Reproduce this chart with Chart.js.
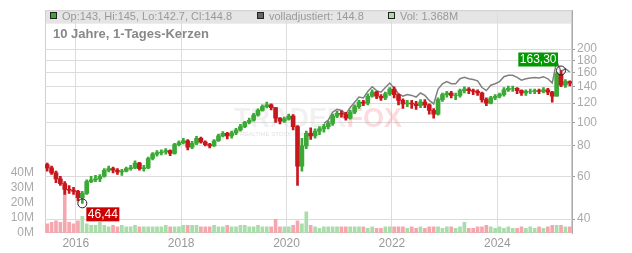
<!DOCTYPE html>
<html>
<head>
<meta charset="utf-8">
<script src="https://cdn.jsdelivr.net/npm/chart.js@4.4.1/dist/chart.umd.min.js"></script>
<style>
  html, body { margin: 0; padding: 0; background: #fff; }
  canvas { display: block; }
</style>
</head>
<body>
<canvas id="chart" width="632" height="253"></canvas>
<script>
// Monatskerzen, Juni 2015 bis Mai 2025
const startYear = 2015 + 5 / 12;

const opens = [
  67, 65, 62, 58.5, 56, 53, 52.6, 52, 49, 51, 57, 58,
  58.5, 60, 63.5, 64.5, 63.5, 62.5, 63, 64.5, 65, 68, 64.5, 65,
  71, 74, 75, 75.5, 76.5, 74.5, 81, 82.5, 84, 79, 82, 86,
  83, 81, 80, 84, 88, 90, 88, 90.5, 93, 96, 100, 102,
  107, 112, 116, 118, 115, 104, 101, 103, 106, 96, 66, 80,
  90, 88, 92, 94, 96, 99, 106, 109, 108, 104, 110, 116,
  121, 120, 128, 133, 128, 126, 131, 137, 130, 123, 119, 120,
  119, 117, 121, 118, 112, 108, 124, 130, 132, 129, 129, 135,
  137, 135, 134, 132, 124, 120, 126, 128, 130, 136, 138, 138,
  135, 132, 134, 134, 135, 134, 136, 133, 128, 158, 142, 147
];
const highs = [
  68, 66, 63, 60, 57, 55, 54, 52.5, 52, 58, 60, 60.5,
  61, 64.5, 66, 65.5, 64.5, 64, 65.5, 66.5, 69.5, 68.5, 66.5, 72,
  75, 76.5, 77, 78, 77, 82, 84, 86, 85, 83.5, 87.5, 87,
  84, 82, 85, 89.5, 91.5, 91, 92, 94.5, 98, 101, 104, 109,
  113.5, 118, 121, 119, 115, 104.5, 105, 108, 107.5, 97, 86, 92,
  95, 94, 96, 98, 101, 108, 111, 111.5, 110, 112, 118, 123,
  123, 131, 136, 134, 130, 133, 139, 140, 131, 125, 123, 123,
  122, 124, 124, 119, 114, 126, 132, 134, 134, 132, 137, 140,
  139, 137, 136, 133, 126, 128, 130, 132, 139, 141, 141, 139,
  136, 136, 137, 137, 137, 139, 138, 134, 160, 163.3, 150, 148
];
const lows = [
  63, 61, 56.5, 55, 50.5, 51, 50.5, 47.5, 46.44, 50.5, 56.5, 57,
  57, 59.5, 62.5, 62, 61, 60.5, 62.5, 63.5, 64.5, 63.5, 63, 64.5,
  70, 72.5, 73.5, 74, 73, 74, 80, 81.5, 77, 78, 81, 82,
  80, 78.5, 79.5, 83.5, 87, 85.5, 86, 89, 92, 95, 98.5, 101,
  106, 111, 114.5, 112.5, 100, 98.5, 100, 102, 93, 55, 63, 78,
  85, 86, 89, 91, 94, 97, 104.5, 105, 102, 103, 108.5, 114,
  117, 118, 127, 125, 123, 124, 129, 126, 118, 114, 116, 114,
  113, 115, 115, 108, 104, 107, 122, 127, 126, 124, 127, 132,
  131, 130, 129, 121, 117, 119, 124, 126, 128, 134, 134, 131,
  129, 129, 131, 131, 131, 132, 130, 121, 128, 140, 139, 141
];
const closes = [
  65, 62, 58.5, 56, 53, 52.6, 52, 49, 51, 57, 58, 58.5,
  60, 63.5, 64.5, 63.5, 62.5, 63, 64.5, 65, 68, 64.5, 65, 71,
  74, 75, 75.5, 76.5, 74.5, 81, 82.5, 84, 79, 82, 86, 83,
  81, 80, 84, 88, 90, 88, 90.5, 93, 96, 100, 102, 107,
  112, 116, 118, 115, 104, 101, 103, 106, 96, 66, 80, 90,
  88, 92, 94, 96, 99, 106, 109, 108, 104, 110, 116, 121,
  120, 128, 133, 128, 126, 131, 137, 130, 123, 119, 120, 119,
  117, 121, 118, 112, 108, 124, 130, 132, 129, 129, 135, 137,
  135, 134, 132, 124, 120, 126, 128, 130, 136, 138, 138, 135,
  132, 134, 134, 135, 134, 136, 133, 128, 158, 142, 147, 144.8
];
// volladjustierte Kurve (nur ab Ende 2020 sichtbar)
const adjusted = [
  null, null, null, null, null, null, null, null, null, null, null, null,
  null, null, null, null, null, null, null, null, null, null, null, null,
  null, null, null, null, null, null, null, null, null, null, null, null,
  null, null, null, null, null, null, null, null, null, null, null, null,
  null, null, null, null, null, null, null, null, null, null, null, null,
  null, null, null, 99, 102, 110, 113, 112, 108, 115, 121, 127,
  126, 134, 140, 135, 133, 139, 145, 138, 131, 128, 130, 129,
  127, 132, 129, 123, 119, 137, 144, 147, 144, 144, 151, 153,
  151, 150, 148, 139, 135, 142, 144, 147, 154, 156, 156, 153,
  149, 151, 152, 153, 152, 154, 151, 145, 178, 162, 166, 161
];
// Volumen in Mio.
const volumes = [
  6, 7, 8, 7, 31, 7, 6, 8, 11, 6, 5, 5,
  7, 5, 4, 5, 4, 5, 4, 4, 5, 4, 4, 4,
  4, 4, 4, 5, 4, 4, 4, 5, 5, 5, 5, 4,
  4, 4, 5, 4, 4, 5, 4, 4, 5, 5, 4, 4,
  5, 4, 4, 4, 9, 4, 4, 4, 5, 8, 6, 14,
  5, 4, 3, 4, 4, 4, 4, 4, 4, 4, 4, 4,
  4, 3, 4, 3, 3, 4, 4, 4, 4, 4, 3, 4,
  3, 4, 3, 4, 4, 4, 3, 4, 4, 3, 4, 7,
  3, 3, 4, 4, 5, 4, 3, 4, 3, 4, 3, 3,
  4, 3, 4, 3, 4, 3, 4, 5, 5, 5, 4, 4
];

const yearTicks = [2016, 2018, 2020, 2022, 2024];
const priceTicks = [40, 60, 80, 100, 120, 140, 160, 180, 200];
const volTicks = [0, 10, 20, 30, 40];

const months = closes.map((c, i) => startYear + (i + 0.5) / 12);
const up = closes.map((c, i) => c >= opens[i]);

const font = "'Liberation Sans', Arial, sans-serif";
const green = '#3aa935';
const red = '#c8161d';

const lowIdx = 8;    // 46,44
const highIdx = 117; // 163,30

const decor = {
  id: 'decor',
  beforeDraw(chart) {
    const { ctx, chartArea: a } = chart;
    ctx.save();
    ctx.fillStyle = '#e5e5e5';
    ctx.fillRect(a.left, a.top, a.right - a.left, 13.5);
    ctx.strokeStyle = '#cfcfcf';
    ctx.lineWidth = 1;
    ctx.strokeRect(a.left + 0.5, a.top + 0.5, a.right - a.left - 1, a.bottom - a.top - 1);
    ctx.restore();
  },
  beforeDatasetsDraw(chart) {
    const { ctx } = chart;
    ctx.save();
    ctx.font = "bold 27px " + font;
    ctx.textBaseline = 'alphabetic';
    ctx.fillStyle = 'rgba(215,215,215,0.35)';
    ctx.fillText('TRADER', 234, 127);
    const w = ctx.measureText('TRADER').width;
    ctx.fillStyle = 'rgba(240,110,120,0.25)';
    ctx.fillText('FOX', 234 + w, 127);
    ctx.font = "6px " + font;
    ctx.fillStyle = 'rgba(200,200,200,0.5)';
    ctx.fillText('REALTIME STOCK CHARTS', 240, 136);
    ctx.restore();
  },
  afterDraw(chart) {
    const { ctx, scales } = chart;
    ctx.save();
    // Legende
    ctx.font = "11px " + font;
    ctx.textBaseline = 'alphabetic';
    const items = [
      { x: 50, fill: '#3aa935', text: 'Op:143, Hi:145, Lo:142.7, Cl:144.8' },
      { x: 257, fill: '#666666', text: 'volladjustiert: 144.8' },
      { x: 388, fill: '#a8dca8', text: 'Vol: 1.368M' }
    ];
    items.forEach(it => {
      ctx.fillStyle = it.fill;
      ctx.fillRect(it.x, 12, 7, 7);
      ctx.strokeStyle = '#222';
      ctx.lineWidth = 1;
      ctx.strokeRect(it.x + 0.5, 12.5, 6, 6);
      ctx.fillStyle = '#999';
      ctx.fillText(it.text, it.x + 12, 20);
    });
    // Titel
    ctx.font = "bold 13px " + font;
    ctx.fillStyle = '#888';
    ctx.fillText('10 Jahre, 1-Tages-Kerzen', 53, 38);

    // Tief / Hoch Markierungen
    const marks = [
      { i: lowIdx, v: lows[lowIdx], text: '46,44', bg: '#cc0000', below: true },
      { i: highIdx, v: highs[highIdx], text: '163,30', bg: '#009900', below: false }
    ];
    ctx.font = "12px " + font;
    marks.forEach(m => {
      const cx = scales.x.getPixelForValue(months[m.i]);
      const cy = scales.yPrice.getPixelForValue(m.v);
      ctx.beginPath();
      ctx.arc(cx, cy, 4.5, 0, Math.PI * 2);
      ctx.strokeStyle = '#222';
      ctx.lineWidth = 1;
      ctx.stroke();
      const tw = ctx.measureText(m.text).width + 3;
      const bx = m.below ? cx + 4 : cx - 3 - tw;
      const by = m.below ? cy + 4 : cy - 18;
      ctx.fillStyle = m.bg;
      ctx.fillRect(bx, by, tw, 14);
      ctx.fillStyle = '#fff';
      ctx.textBaseline = 'middle';
      ctx.fillText(m.text, bx + 1.5, by + 7.5);
    });
    ctx.restore();
  }
};

new Chart(document.getElementById('chart'), {
  type: 'bar',
  data: {
    datasets: [
      {
        type: 'line',
        label: 'volladjustiert',
        data: months.map((x, i) => ({ x, y: adjusted[i] })),
        yAxisID: 'yPrice',
        borderColor: '#808080',
        borderWidth: 1.5,
        pointRadius: 0,
        spanGaps: false,
        order: 3
      },
      {
        label: 'Docht',
        data: months.map((x, i) => ({ x, y: [lows[i], highs[i]] })),
        yAxisID: 'yPrice',
        backgroundColor: up.map(u => u ? green : red),
        barThickness: 2,
        grouped: false,
        order: 2
      },
      {
        label: 'Kerze',
        data: months.map((x, i) => ({ x, y: [opens[i], closes[i]] })),
        yAxisID: 'yPrice',
        backgroundColor: up.map(u => u ? green : red),
        barThickness: 4,
        grouped: false,
        order: 1
      },
      {
        label: 'Vol',
        data: months.map((x, i) => ({ x, y: volumes[i] })),
        yAxisID: 'yVol',
        backgroundColor: up.map(u => u ? '#abdcab' : '#f3a8b0'),
        barThickness: 3,
        grouped: false,
        order: 4
      }
    ]
  },
  options: {
    responsive: false,
    animation: false,
    layout: { padding: { top: 9, left: 0, right: 0, bottom: 0 } },
    plugins: { legend: { display: false }, tooltip: { enabled: false } },
    scales: {
      x: {
        type: 'linear',
        min: startYear,
        max: startYear + 10,
        offset: false,
        afterBuildTicks: s => { s.ticks = yearTicks.map(v => ({ value: v })); },
        afterFit: s => { s.height = 20; },
        grid: { color: '#dcdcdc', drawTicks: false, offset: false },
        border: { display: false },
        ticks: {
          color: '#999', font: { size: 12, family: font }, padding: 3,
          maxRotation: 0, autoSkip: false, callback: v => String(v)
        }
      },
      yPrice: {
        type: 'logarithmic',
        position: 'right',
        min: 35.07,
        max: 289,
        afterBuildTicks: s => { s.ticks = priceTicks.map(v => ({ value: v })); },
        afterFit: s => { s.width = 60; },
        grid: { color: '#dcdcdc', tickLength: 3, tickColor: '#999' },
        border: { display: true, color: '#aaa' },
        ticks: {
          color: '#aaa', font: { size: 12, family: font }, padding: 2,
          autoSkip: false, callback: v => String(v)
        }
      },
      yVol: {
        type: 'linear',
        position: 'left',
        min: 0,
        max: 146.9,
        afterBuildTicks: s => { s.ticks = volTicks.map(v => ({ value: v })); },
        afterFit: s => { s.width = 45; },
        grid: { display: false },
        border: { display: false },
        ticks: {
          color: '#aaa', font: { size: 12, family: font }, padding: 3,
          autoSkip: false, callback: v => v + 'M'
        }
      }
    }
  },
  plugins: [decor]
});
</script>
</body>
</html>
